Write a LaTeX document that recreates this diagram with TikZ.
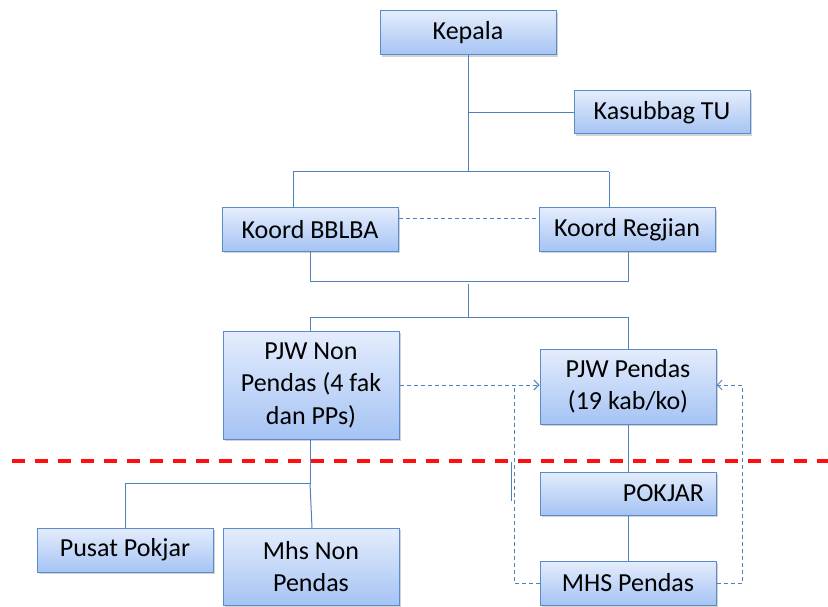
\documentclass[tikz,border=0pt]{standalone}
\usepackage{fontspec}
\setmainfont{Carlito}
\usetikzlibrary{shadows,arrows.meta}
\definecolor{boxtop}{HTML}{E4EDFC}
\definecolor{boxbot}{HTML}{A5C3F4}
\definecolor{boxedge}{HTML}{5B8BC8}
\definecolor{linkcol}{HTML}{4F81BD}
\definecolor{cutred}{HTML}{FF1010}
\begin{document}
\begin{tikzpicture}[x=1pt,y=-1pt,
  unit/.style={draw=boxedge, line width=1pt, top color=boxtop, bottom color=boxbot,
    minimum width=176pt, inner sep=0pt, align=center,
    font=\fontsize{26}{32.5}\selectfont,
    drop shadow={shadow xshift=1.5pt, shadow yshift=-2pt, opacity=0.35}},
  link/.style={draw=linkcol, line width=1pt},
  dlink/.style={draw=linkcol, line width=0.9pt, dash pattern=on 4pt off 3pt},
  tipend/.style={-{Straight Barb[length=5pt,width=10pt]}},
  cut/.style={draw=cutred, line width=3.5pt, dash pattern=on 13pt off 10pt}]
\useasboundingbox (0,0) rectangle (828,607);

% units
\node[unit, minimum height=44pt] (kepala) at (468,33) {Kepala};
\node[unit, minimum height=43pt] (tu) at (662,112.5) {Kasubbag TU};
\node[unit, minimum height=43pt] (bblba) at (310,229.5) {Koord BBLBA};
\node[unit, minimum height=43pt] (regjian) at (627,229.5) {Koord Regjian};
\node[unit, minimum height=108pt] (pjwnon) at (311,385) {PJW Non\\Pendas (4 fak\\dan PPs)};
\node[unit, minimum height=75pt] (pjwpendas) at (628,386.5) {PJW Pendas\\(19 kab/ko)};
\node[unit, minimum height=43pt, text width=152pt, align=right] (pokjar) at (628,493.5) {POKJAR};
\node[unit, minimum height=44pt] (mhspendas) at (628,583) {MHS Pendas};
\node[unit, minimum height=44pt] (pusat) at (125,550) {Pusat Pokjar};
\node[unit, minimum height=77pt] (mhsnon) at (311,566.5) {Mhs Non\\Pendas};

% junction points
\coordinate (j1) at (468,172);
\coordinate (j2) at (468,113);
\coordinate (j4) at (468,317);
\coordinate (j5) at (310,483);
\coordinate (ls) at (514,385);
\coordinate (rs) at (742,385);
\coordinate (m1) at (511,462);
\coordinate (m2) at (511,501);
\coordinate (c1) at (12,461);
\coordinate (c2) at (828,461);

% solid reporting lines
\draw[link] (kepala.south) -- (j1);
\draw[link] (j2) -- (tu.west |- j2);
\draw[link] (293,172) -- (609,172);
\draw[link] (293,172) -- (293,208);
\draw[link] (609,172) -- (609,208);
\draw[link] (bblba.south) -- (310,281) -- (628,281) -- (628,251);
\draw[link] (468,284) -- (j4);
\draw[link] (310,317) -- (628,317);
\draw[link] (310,317) -- (310,331);
\draw[link] (pjwpendas.north) -- (628,317);
\draw[link] (pjwpendas.south) -- (pokjar.north);
\draw[link] (pokjar.south) -- (mhspendas.north);
\draw[link] (pjwnon.south -| j5) -- (j5) -- (125,483) -- (pusat.north);
\draw[link] (j5) -- (312,528);
\draw[link] (m1) -- (m2);

% dashed coordination lines
\draw[dlink] (bblba.east |- 0,218) -- (regjian.west |- 0,218);
\draw[dlink, tipend] (pjwnon.east |- ls) -- (pjwpendas.west |- ls);
\draw[dlink] (mhspendas.west) -- (mhspendas.west -| ls) -- (ls);
\draw[dlink, tipend] (mhspendas.east) -- (mhspendas.east -| rs) -- (rs) -- (pjwpendas.east |- rs);

% boundary line
\draw[cut] (c1) -- (c2);
\end{tikzpicture}
\end{document}
